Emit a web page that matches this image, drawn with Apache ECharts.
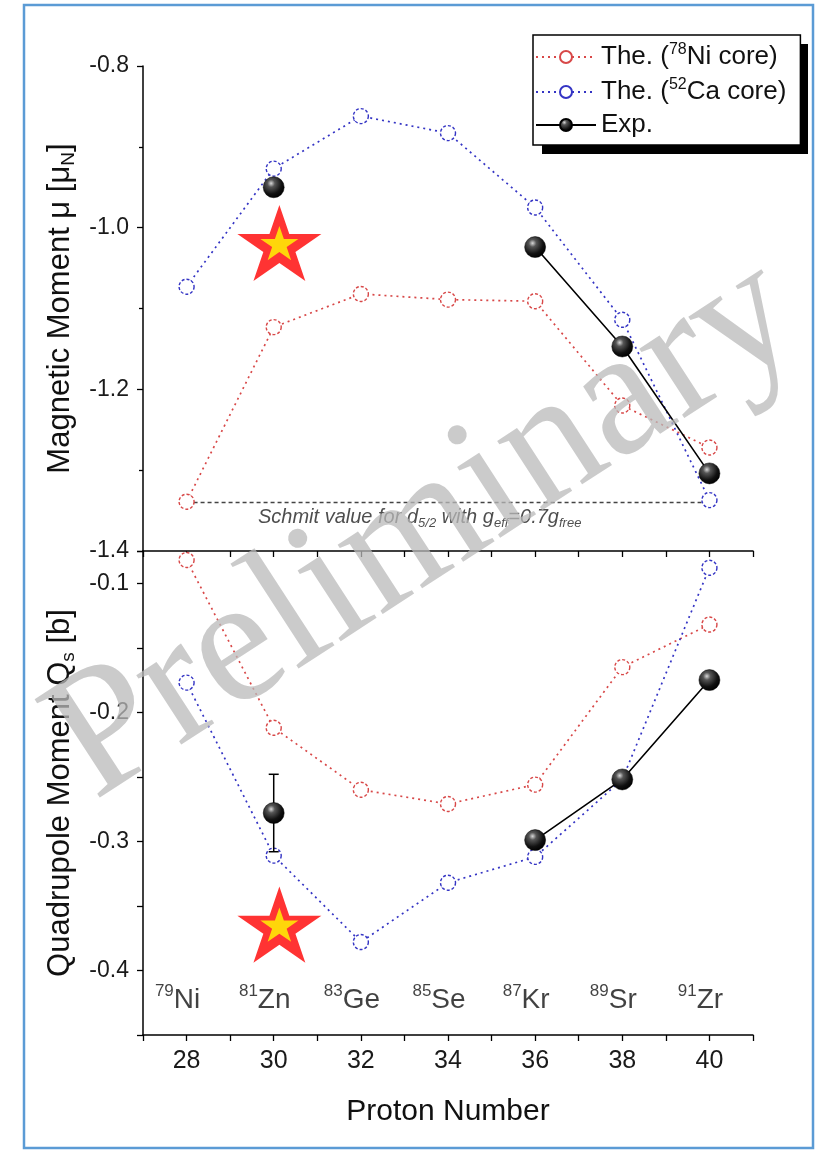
<!DOCTYPE html>
<html>
<head>
<meta charset="utf-8">
<script src="https://cdn.jsdelivr.net/npm/echarts@6/dist/echarts.min.js"></script>
<style>
  html, body { margin: 0; padding: 0; background: #fff; }
  #chart { width: 825px; height: 1150px; }
</style>
</head>
<body>
<div id="chart"></div>
<script>
// Proton number of each isotope and its label
const protonNumbers = [28, 30, 32, 34, 36, 38, 40];
const massNumbers = [79, 81, 83, 85, 87, 89, 91];
const elementSymbols = ['Ni', 'Zn', 'Ge', 'Se', 'Kr', 'Sr', 'Zr'];

// Magnetic moments [mu_N]
const muNiCore = [-1.339, -1.123, -1.082, -1.089, -1.091, -1.220, -1.272];
const muCaCore = [-1.073, -0.927, -0.862, -0.883, -0.975, -1.114, -1.337];
const muExp = [null, -0.950, null, null, -1.024, -1.147, -1.304];

// Spectroscopic quadrupole moments [b]
const qNiCore = [-0.082, -0.212, -0.260, -0.271, -0.256, -0.165, -0.132];
const qCaCore = [-0.177, -0.311, -0.378, -0.332, -0.312, -0.252, -0.088];
const qExp = [null, -0.278, null, null, -0.299, -0.252, -0.175];
const qExpErr = [null, 0.030, null, null, null, null, null];

// Schmidt reference value for d5/2 with quenched g-factor
const schmidtMu = -1.34;
const schmidtRange = [28, 40];

// Highlighted new measurement (81Zn)
const starMu = [30.13, -1.019];
const starQ = [30.13, -0.3645];

const RED = '#d84848';
const BLUE = '#3434c4';
const FONT = '"Liberation Sans", Arial, sans-serif';

const pairs = ys => protonNumbers.map((x, i) => [x, ys[i] == null ? '-' : ys[i]]);

const STAR = 'path://M0 -50 L11.23 -15.45 L47.55 -15.45 L18.16 5.9 L29.39 40.45 L0 19.1 L-29.39 40.45 L-18.16 5.9 L-47.55 -15.45 L-11.23 -15.45 Z';

const sphere = {
  type: 'radial', x: 0.38, y: 0.32, r: 0.7,
  colorStops: [
    { offset: 0, color: '#d8d8d8' },
    { offset: 0.25, color: '#555' },
    { offset: 0.7, color: '#111' },
    { offset: 1, color: '#000' }
  ]
};

function theorySeries(name, color, data, gi) {
  return {
    name, type: 'line', xAxisIndex: gi, yAxisIndex: gi,
    data: pairs(data),
    symbol: 'circle', symbolSize: 15,
    itemStyle: { color: '#fff', borderColor: color, borderWidth: 1.4, borderType: [3, 2] },
    lineStyle: { color: color, width: 1.7, type: [2, 4] },
    z: 3
  };
}

function expSeries(data, gi) {
  return {
    name: 'Exp.', type: 'line', xAxisIndex: gi, yAxisIndex: gi,
    data: pairs(data), connectNulls: false,
    symbol: 'circle', symbolSize: 21,
    itemStyle: { color: sphere, borderColor: '#000', borderWidth: 0.5 },
    lineStyle: { color: '#000', width: 1.6, type: 'solid' },
    z: 5
  };
}

function starSeries(pt, gi) {
  return [
    { type: 'scatter', xAxisIndex: gi, yAxisIndex: gi, data: [pt], symbol: STAR,
      symbolKeepAspect: true, symbolSize: [84, 80], itemStyle: { color: '#ff0000' }, silent: true, z: 6 },
    { type: 'scatter', xAxisIndex: gi, yAxisIndex: gi, data: [pt], symbol: STAR,
      symbolKeepAspect: true, symbolSize: [38, 36], itemStyle: { color: '#ffff00' }, silent: true, z: 7 }
  ];
}

const errData = protonNumbers
  .map((x, i) => qExpErr[i] == null ? null : [x, qExp[i] - qExpErr[i], qExp[i] + qExpErr[i]])
  .filter(d => d);

const isotopeData = protonNumbers.map((x, i) => ({
  value: [x, -0.4215],
  label: { formatter: '{m|' + massNumbers[i] + '}{e|' + elementSymbols[i] + '}' }
}));

const legendText = {
  'The. (78Ni core)': '{t|The. (}{s|78}{t|Ni core)}',
  'The. (52Ca core)': '{t|The. (}{s|52}{t|Ca core)}',
  'Exp.': '{t|Exp.}'
};

const xAxisCommon = {
  type: 'value', min: 27, max: 41, interval: 1,
  axisLine: { show: true, onZero: false, lineStyle: { color: '#000', width: 1.5 } },
  axisTick: { show: true, length: 6, lineStyle: { color: '#000', width: 1.3 } },
  splitLine: { show: false }
};

const yAxisCommon = {
  type: 'value', position: 'left',
  axisLine: { show: true, onZero: false, lineStyle: { color: '#000', width: 1.5 } },
  axisTick: { show: true, length: 6, lineStyle: { color: '#000', width: 1.3 } },
  splitLine: { show: false },
  nameLocation: 'middle', nameGap: 64, nameRotate: 90,
  axisLabel: { fontSize: 23, fontFamily: FONT, color: '#1a1a1a', margin: 14 }
};

const nameRich = {
  t: { fontSize: 31, fontFamily: FONT, color: '#111', lineHeight: 36 },
  s: { fontSize: 19, fontFamily: FONT, color: '#111', lineHeight: 36, verticalAlign: 'bottom', padding: [12, 0, 0, 0] }
};

const option = {
  backgroundColor: '#fff',
  animation: false,
  grid: [
    { left: 143, right: 72, top: 66, height: 485 },
    { left: 143, right: 72, top: 551, height: 484 }
  ],
  xAxis: [
    Object.assign({}, xAxisCommon, { gridIndex: 0, axisLabel: { show: false } }),
    Object.assign({}, xAxisCommon, {
      gridIndex: 1,
      axisLabel: {
        fontSize: 25, fontFamily: FONT, color: '#1a1a1a', margin: 14,
        formatter: v => (v % 2 === 0 ? String(v) : '')
      },
      name: 'Proton Number', nameLocation: 'middle', nameGap: 62,
      nameTextStyle: { fontSize: 30, fontFamily: FONT, color: '#111' }
    })
  ],
  yAxis: [
    Object.assign({}, yAxisCommon, {
      gridIndex: 0, min: -1.4, max: -0.8, interval: 0.2,
      minorTick: { show: true, splitNumber: 2, length: 4, lineStyle: { color: '#000', width: 1.3 } },
      minorSplitLine: { show: false },
      axisLabel: Object.assign({}, yAxisCommon.axisLabel, { formatter: v => v.toFixed(1) }),
      name: '{t|Magnetic Moment μ [μ}{s|N}{t|]}',
      nameTextStyle: { rich: nameRich }
    }),
    Object.assign({}, yAxisCommon, {
      gridIndex: 1, min: -0.45, max: -0.075, interval: 0.05,
      axisLabel: Object.assign({}, yAxisCommon.axisLabel, {
        formatter: v => (Math.abs(Math.round(v * 100)) % 10 === 0 ? v.toFixed(1) : '')
      }),
      name: '{t|Quadrupole Moment Q}{s|s}{t| [b]}',
      nameTextStyle: { rich: nameRich }
    })
  ],
  legend: {
    data: ['The. (78Ni core)', 'The. (52Ca core)', 'Exp.'],
    orient: 'vertical', left: 533, top: 35, z: 20,
    itemWidth: 60, itemHeight: 15, itemGap: 7,
    padding: [7, 14, 7, 2],
    backgroundColor: '#fff', borderColor: '#000', borderWidth: 1.5,
    selectedMode: false,
    formatter: name => legendText[name],
    textStyle: {
      rich: {
        t: { fontSize: 26, fontFamily: FONT, color: '#111', lineHeight: 30 },
        s: { fontSize: 16, fontFamily: FONT, color: '#111', lineHeight: 30, verticalAlign: 'top', padding: [0, 0, 10, 0] }
      }
    }
  },
  graphic: [
    { type: 'rect', shape: { x: 24, y: 5, width: 789, height: 1143 },
      style: { fill: 'none', stroke: '#5b9bd5', lineWidth: 2.5 }, z: 0, silent: true },
    // drop shadow behind the legend box
    { type: 'rect', shape: { x: 542, y: 44, width: 266, height: 110 },
      style: { fill: '#000' }, z: 1, silent: true },
    { type: 'text', x: 425, y: 530, rotation: 33 * Math.PI / 180, z: 100, silent: true,
      style: { text: 'Preliminary', fontSize: 180, fontFamily: '"Liberation Serif", "DejaVu Serif", serif',
        fill: 'rgba(185,185,185,0.75)', align: 'center', verticalAlign: 'middle' } }
  ],
  series: [
    theorySeries('The. (78Ni core)', RED, muNiCore, 0),
    theorySeries('The. (78Ni core)', RED, qNiCore, 1),
    theorySeries('The. (52Ca core)', BLUE, muCaCore, 0),
    theorySeries('The. (52Ca core)', BLUE, qCaCore, 1),
    {
      type: 'line', xAxisIndex: 0, yAxisIndex: 0, silent: true,
      data: schmidtRange.map(x => [x, schmidtMu]), symbol: 'none',
      lineStyle: { color: '#444', width: 1.3, type: [4, 3] }, z: 2
    },
    {
      type: 'scatter', xAxisIndex: 0, yAxisIndex: 0, silent: true,
      data: [[33.35, schmidtMu - 0.018]], symbolSize: 0,
      label: {
        show: true, position: 'inside',
        formatter: '{i|Schmit value for d}{b|5/2}{i| with g}{b|eff}{i|=0.7g}{b|free}',
        rich: {
          i: { fontSize: 20, fontStyle: 'italic', fontFamily: FONT, color: '#222', lineHeight: 26 },
          b: { fontSize: 13, fontStyle: 'italic', fontFamily: FONT, color: '#222', lineHeight: 26, verticalAlign: 'bottom', padding: [10, 0, 0, 0] }
        }
      }
    },
    {
      type: 'custom', xAxisIndex: 1, yAxisIndex: 1, silent: true, z: 4,
      data: errData, encode: { x: 0, y: [1, 2] },
      renderItem: (params, api) => {
        const x = api.value(0);
        const lo = api.coord([x, api.value(1)]);
        const hi = api.coord([x, api.value(2)]);
        const cap = 5;
        const st = { stroke: '#000', lineWidth: 1.5 };
        return {
          type: 'group', children: [
            { type: 'line', shape: { x1: lo[0], y1: lo[1], x2: hi[0], y2: hi[1] }, style: st },
            { type: 'line', shape: { x1: hi[0] - cap, y1: hi[1], x2: hi[0] + cap, y2: hi[1] }, style: st },
            { type: 'line', shape: { x1: lo[0] - cap, y1: lo[1], x2: lo[0] + cap, y2: lo[1] }, style: st }
          ]
        };
      }
    },
    expSeries(muExp, 0),
    expSeries(qExp, 1),
    {
      type: 'scatter', xAxisIndex: 1, yAxisIndex: 1, silent: true,
      data: isotopeData, symbolSize: 0,
      label: {
        show: true, position: 'inside', offset: [-9, 2],
        rich: {
          m: { fontSize: 17, fontFamily: FONT, color: '#111', lineHeight: 34, verticalAlign: 'top', padding: [0, 0, 14, 0] },
          e: { fontSize: 28, fontFamily: FONT, color: '#111', lineHeight: 34 }
        }
      }
    },
    ...starSeries(starMu, 0),
    ...starSeries(starQ, 1)
  ]
};

const chart = echarts.init(document.getElementById('chart'), null, { renderer: 'canvas' });
chart.setOption(option);
</script>
</body>
</html>
